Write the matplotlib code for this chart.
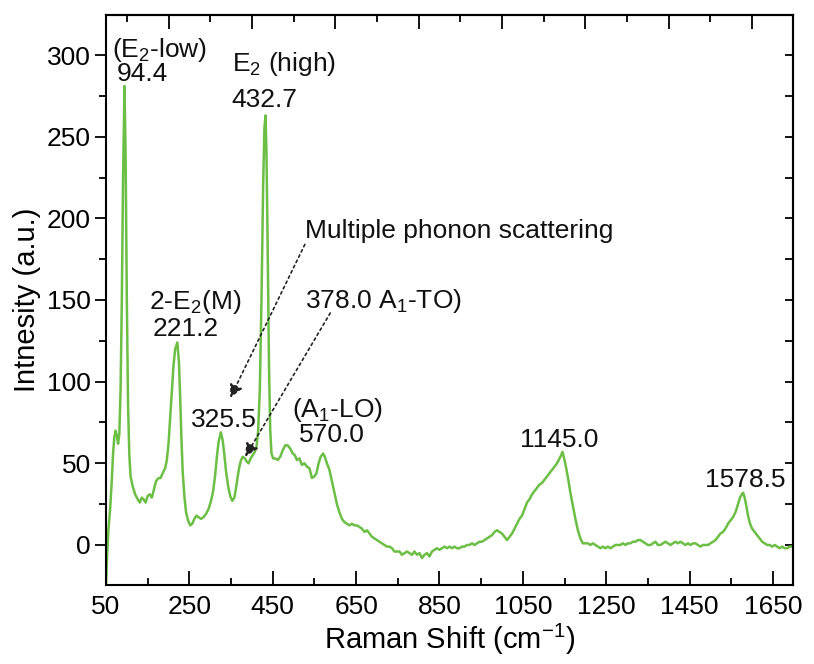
import matplotlib
matplotlib.use("Agg")
import matplotlib.pyplot as plt
from matplotlib.ticker import MultipleLocator, FixedLocator

plt.rcParams['font.family'] = ['Liberation Sans', 'DejaVu Sans']
plt.rcParams['mathtext.fontset'] = 'custom'
plt.rcParams['mathtext.rm'] = 'Liberation Sans'
plt.rcParams['mathtext.it'] = 'Liberation Sans:italic'
plt.rcParams['mathtext.bf'] = 'Liberation Sans:bold'

# Raman spectrum
shift = [50, 53, 56, 60, 64, 67, 70, 73, 76, 79, 82, 85, 88, 91, 94.4, 97, 100, 103, 106, 109,
         114, 120, 126, 131, 136, 140, 145, 150, 155, 160, 164, 170, 176, 181, 186, 192, 196,
         200, 204, 208, 212, 216, 221.2, 225, 228, 231, 234, 238, 242, 247, 252, 257, 262, 267,
         272, 278, 284, 290, 296, 302, 307, 312, 316, 320, 325.5, 330, 334, 338, 343, 348, 353,
         358, 362, 366, 370, 374, 378, 383, 388, 392, 397, 402, 407, 411, 415, 419, 423, 427,
         430, 432.7, 435, 438, 441, 444, 447, 451, 456, 462, 468, 474, 480, 486, 492, 498, 503,
         508, 514, 520, 526, 532, 538, 544, 550, 555, 560, 565, 571, 575, 580, 586, 592, 598,
         604, 610, 616, 622, 628, 634, 640, 646, 652, 658, 664, 670, 676, 682, 688, 694, 700,
         706, 712, 718, 724, 730, 736, 742, 748, 754, 760, 766, 772, 778, 784, 790, 796, 802,
         808, 814, 820, 826, 832, 838, 844, 850, 856, 862, 868, 874, 880, 886, 892, 898, 904,
         910, 916, 922, 928, 934, 940, 946, 952, 958, 964, 970, 976, 982, 988, 994, 1000, 1006,
         1012, 1018, 1024, 1030, 1036, 1042, 1048, 1054, 1060, 1066, 1072, 1078, 1084, 1090,
         1096, 1102, 1108, 1114, 1120, 1126, 1132, 1138, 1142, 1145, 1149, 1154, 1159, 1164,
         1170, 1176, 1182, 1188, 1194, 1200, 1206, 1212, 1218, 1224, 1230, 1236, 1242, 1248,
         1254, 1260, 1266, 1272, 1278, 1284, 1290, 1296, 1302, 1308, 1314, 1320, 1326, 1332,
         1338, 1344, 1350, 1356, 1362, 1368, 1374, 1380, 1386, 1392, 1398, 1404, 1410, 1416,
         1422, 1428, 1434, 1440, 1446, 1452, 1458, 1464, 1470, 1476, 1482, 1488, 1494, 1500,
         1506, 1512, 1518, 1524, 1530, 1536, 1542, 1548, 1554, 1560, 1566, 1571, 1575, 1578.5,
         1582, 1586, 1590, 1595, 1600, 1606, 1612, 1618, 1624, 1630, 1636, 1642, 1648, 1654,
         1660, 1666, 1672, 1678, 1684, 1690, 1696]
intensity = [-25, -5, 10, 22, 40, 56, 66, 70, 67, 62, 68, 95, 150, 225, 281, 240, 150, 85, 55, 42,
             36, 31, 28, 26, 29, 28, 26, 30, 31, 29, 33, 39, 41, 41, 44, 47, 52,
             62, 78, 95, 110, 120, 124, 112, 90, 65, 45, 30, 20, 15, 12, 13, 16, 18,
             17, 16, 17, 19, 22, 27, 33, 43, 54, 63, 69, 64, 55, 45, 36, 30, 27,
             29, 35, 42, 48, 52, 54, 53, 51, 50, 53, 55, 57, 60, 70, 95, 150, 220,
             255, 263, 240, 180, 110, 70, 56, 53, 53, 52, 54, 58, 61, 61, 59, 56, 55,
             52, 53, 49, 50, 48, 47, 41, 42, 44, 50, 54, 56, 54, 50, 46, 39, 32,
             25, 20, 16, 14, 13, 12, 13, 12, 12, 11, 10, 8, 9, 7, 5, 4, 3,
             2, 1, 0, -1, -1, -2, -4, -4, -4, -6, -5, -4, -5, -6, -4, -6, -5,
             -8, -6, -5, -7, -4, -3, -2, -3, -2, -1, -2, -1, -2, -1, -2, -2, -1,
             -1, 0, 0, 1, 0, 1, 2, 2, 3, 4, 5, 6, 8, 9, 8, 7, 5,
             3, 5, 7, 10, 13, 16, 18, 22, 26, 28, 31, 33, 35, 37,
             38, 40, 42, 44, 46, 48, 50, 53, 55, 57, 53, 47, 40, 32,
             24, 16, 9, 4, 1, 1, 1, 0, 1, 0, -1, -2, -1, -2,
             -1, -2, -1, 0, 0, 0, 1, 0, 1, 1, 2, 2, 3, 3,
             2, 1, 0, 0, 1, 2, 0, 0, 1, 2, 1, 0, 1, 2,
             1, 2, 1, 0, 1, 0, 1, 1, 0, -1, 0, 0, 0, 1,
             2, 3, 5, 7, 8, 10, 13, 15, 17, 20, 25, 29, 31, 32,
             29, 24, 18, 13, 10, 8, 6, 4, 2, 1, 0, 0, -1, 0,
             -1, -2, -1, -2, -2, -1, -1]

# peak labels: (text, x, y) in data coordinates, left aligned, baseline
labels = [
    ("(E$_2$-low)", 65, 299),
    ("94.4", 75, 284),
    ("E$_2$ (high)", 352, 290),
    ("432.7", 351, 268),
    ("Multiple phonon scattering", 527, 188),
    ("378.0 A$_1$-TO)", 527, 145),
    ("2-E$_2$(M)", 152, 144.5),
    ("221.2", 162, 128),
    ("325.5", 254, 72.5),
    ("(A$_1$-LO)", 496, 78.5),
    ("570.0", 514, 63),
    ("1145.0", 1043, 60),
    ("1578.5", 1487, 35.5),
]

# dotted arrows: (start, tip)
arrows = [((527, 184), (348, 90)), ((588, 142), (384, 54))]

fig = plt.figure(figsize=(8.14, 6.64), dpi=100)
ax = fig.add_axes([0.1302, 0.119, 0.844, 0.8584])

ax.plot(shift, intensity, color='#6cbf45', lw=1.8)

ax.set_xlim(50, 1698)
ax.set_ylim(-24.5, 324.5)

ax.xaxis.set_major_locator(FixedLocator(range(50, 1651, 200)))
ax.xaxis.set_minor_locator(FixedLocator(range(150, 1651, 200)))
ax.yaxis.set_major_locator(MultipleLocator(50))
ax.yaxis.set_minor_locator(MultipleLocator(25))

ax.tick_params(axis='x', which='both', direction='in', top=False, labelsize=19, pad=7)
ax.tick_params(axis='x', which='major', length=10, width=1.3)
ax.tick_params(axis='x', which='minor', length=5, width=1.3)
ax.tick_params(axis='y', which='both', direction='out', right=False, labelsize=19, pad=3)
ax.tick_params(axis='y', which='major', length=8, width=1.3)
ax.tick_params(axis='y', which='minor', length=5, width=1.3)

for s in ax.spines.values():
    s.set_linewidth(1.5)

top = ax.secondary_xaxis('top')
top.xaxis.set_major_locator(FixedLocator(range(200, 1700, 200)))
top.xaxis.set_minor_locator(FixedLocator(range(100, 1700, 200)))
top.tick_params(which='both', direction='in', labeltop=False, width=1.3)
top.tick_params(which='major', length=10)
top.tick_params(which='minor', length=5)
top.spines['top'].set_linewidth(1.5)

right = ax.secondary_yaxis('right')
right.yaxis.set_major_locator(MultipleLocator(50))
right.yaxis.set_minor_locator(MultipleLocator(25))
right.tick_params(which='both', direction='in', labelright=False, width=1.3, length=6)
right.spines['right'].set_linewidth(1.5)

ax.set_xlabel('Raman Shift (cm$^{-1}$)', fontsize=21, labelpad=2)
ax.set_ylabel('Intnesity (a.u.)', fontsize=21, labelpad=4)

for txt, x, y in labels:
    ax.text(x, y, txt, fontsize=19, ha='left', va='baseline', color='#111111')

for start, tip in arrows:
    ax.annotate('', xy=tip, xytext=start,
                arrowprops=dict(arrowstyle='-|>', linestyle=(0, (1.5, 2)), color='#222222',
                                lw=1.2, mutation_scale=20, shrinkA=0, shrinkB=0))

fig.savefig('out.png', dpi=100)
